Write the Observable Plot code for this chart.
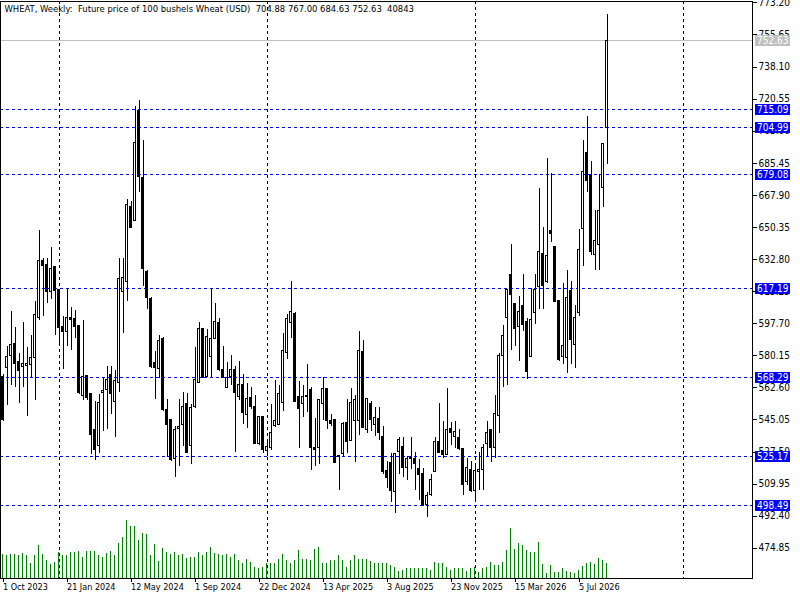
<!DOCTYPE html>
<html><head><meta charset="utf-8">
<script src="https://cdn.jsdelivr.net/npm/d3@7"></script>
<script src="https://cdn.jsdelivr.net/npm/@observablehq/plot@0.6"></script>
<style>
body{margin:0;background:#fff;}
#chart{position:relative;width:800px;height:600px;overflow:hidden;background:#fff;}
#chart svg{position:absolute;left:0;top:0;}
#chart svg line,#chart svg rect,#chart svg path{shape-rendering:crispEdges;}
#chart svg text{white-space:pre;}
</style></head><body><div id="chart"></div>
<script>
// ---- data (weekly candles starting 1 Oct 2023) ----
const firstWeek = "2023-10-01";
const opens = [568.5,573.6,580.3,586.4,576.6,573.8,574.6,575.2,578.9,601.0,632.1,629.8,615.2,628.6,616.4,595.7,593.3,600.6,600.2,596.5,558.4,569.1,559.0,539.3,530.7,559.6,561.6,569.7,554.9,565.5,614.8,620.5,661.5,653.8,714.3,677.3,626.0,611.2,576.3,572.8,589.4,550.3,545.2,523.5,540.1,542.1,553.9,530.6,551.9,565.1,594.9,568.5,579.3,589.4,598.2,572.6,562.4,568.5,572.6,557.6,564.0,547.8,556.9,552.3,532.0,546.8,528.0,529.6,541.7,542.1,554.3,581.9,597.9,603.2,557.6,553.9,557.6,561.6,529.6,529.6,553.5,562.0,544.4,544.8,525.5,526.5,543.3,533.6,544.2,544.2,582.3,539.7,553.5,542.1,545.8,535.6,516.9,521.4,505.6,527.5,530.0,519.0,524.2,523.8,518.4,515.4,498.7,504.2,516.4,533.2,527.9,525.9,540.1,535.6,535.2,529.2,511.3,517.4,506.2,516.4,517.8,532.0,539.7,529.9,547.4,580.3,600.6,624.5,608.7,596.1,607.5,598.9,579.3,603.7,617.9,636.1,620.5,648.3,639.6,610.3,579.5,578.9,615.8,586.0,603.7,649.3,690.9,678.5,635.1,640.8,672.1,704.88];
const highs = [570.0,585.4,604.1,595.5,581.3,598.6,584.8,591.3,610.1,648.9,633.1,633.1,639.6,628.6,616.4,601.6,616.8,606.7,604.7,596.5,599.6,569.1,559.0,554.9,559.0,568.1,574.2,574.2,572.2,633.1,633.1,665.6,664.5,716.3,720.0,698.0,627.0,612.0,582.3,591.5,590.4,556.0,545.2,541.7,556.0,560.0,559.6,553.5,584.8,598.6,594.9,594.5,617.2,608.7,600.6,585.4,576.2,580.3,574.2,577.2,570.1,565.1,563.0,558.4,547.0,547.0,533.0,553.5,566.5,564.0,592.5,602.6,620.9,603.7,566.1,564.0,575.2,563.0,545.8,556.0,568.5,562.0,547.8,544.8,525.5,543.7,556.0,562.0,558.4,593.5,588.4,556.3,554.9,551.9,551.9,541.7,522.4,526.5,526.5,535.6,535.6,525.1,535.6,527.1,523.5,518.4,505.2,515.4,535.6,554.3,544.2,562.0,543.7,544.2,539.7,529.2,523.9,522.4,521.4,527.5,531.6,544.2,539.7,558.4,581.3,596.5,616.4,641.2,608.7,612.8,624.5,600.6,616.8,624.5,671.6,650.3,687.9,679.8,639.6,610.3,619.9,626.6,620.9,607.7,649.3,698.0,711.2,686.7,659.5,679.4,696.0,767.00];
const lows = [544.0,552.9,564.1,563.0,553.9,563.0,546.8,567.7,555.9,599.6,601.6,608.7,611.2,591.5,585.4,572.6,585.4,583.3,589.4,559.0,555.9,555.9,525.9,522.9,526.5,538.7,539.7,548.2,535.6,560.0,592.5,609.7,650.3,653.4,669.6,617.8,605.7,573.0,556.4,567.7,549.5,524.5,522.5,513.7,519.8,530.6,527.0,520.4,551.5,565.0,567.7,568.0,568.5,589.0,571.8,567.7,562.4,564.0,527.1,555.9,542.7,540.1,550.9,531.8,531.0,526.5,525.0,528.5,540.7,542.1,549.9,578.3,589.4,554.5,529.6,546.2,549.1,517.4,519.8,520.4,544.6,539.7,541.7,521.0,506.2,524.5,526.5,533.6,522.0,536.7,540.7,537.7,538.7,536.0,533.6,515.4,507.6,500.1,494.0,515.4,513.3,511.7,517.9,506.2,501.1,497.5,491.4,503.2,516.4,526.5,523.8,525.9,531.2,529.6,528.5,503.6,509.3,505.6,500.1,506.2,506.2,524.5,521.8,523.9,537.7,563.0,564.0,583.3,585.4,577.2,593.5,567.1,579.3,597.5,605.7,605.7,619.9,642.2,609.1,577.2,575.2,570.7,575.2,573.2,601.6,629.0,669.6,635.1,626.6,626.6,661.1,684.63];
const closes = [545.0,579.7,585.8,575.6,571.8,575.6,575.8,578.7,602.2,631.9,629.0,615.2,627.4,615.8,595.5,592.9,600.6,599.6,596.1,560.0,568.5,556.9,536.7,528.5,554.3,561.0,567.1,559.0,566.5,621.9,622.5,662.9,650.3,696.4,678.1,627.4,611.8,574.2,573.6,588.4,550.3,542.1,523.0,539.3,541.3,551.9,527.1,551.5,567.1,594.9,568.1,590.4,589.4,598.6,572.2,568.1,568.1,572.6,560.0,564.0,548.8,556.3,551.9,532.0,546.8,528.5,530.0,538.1,544.2,559.0,582.7,600.2,604.1,554.9,550.9,557.6,557.9,529.6,528.5,556.0,562.0,544.4,542.7,521.4,524.5,542.7,533.2,554.3,555.9,582.7,540.7,556.3,544.8,546.2,537.7,516.4,513.3,506.2,526.5,534.0,519.0,523.5,523.8,521.0,514.9,498.1,503.6,512.3,533.2,527.1,525.9,539.7,537.7,538.7,529.2,509.3,519.0,506.2,517.0,517.4,529.6,538.1,529.6,548.2,580.3,590.9,616.4,613.2,594.9,604.3,597.0,571.2,599.6,616.4,636.7,618.5,634.7,646.9,609.7,577.9,585.4,611.8,588.8,601.0,638.1,680.8,675.7,636.7,642.8,659.1,696.0,752.63];
const volumes = [65300,62600,65300,65300,62600,68000,62600,40800,62600,89800,65300,49000,38100,43500,70700,62600,62600,70700,70700,73400,57100,73400,73400,73400,62600,57100,68000,73400,62600,95200,111500,157800,141400,141400,103400,122400,119700,62600,92500,46200,81600,70700,65300,70700,62600,65300,54400,57100,57100,70700,62600,70700,84300,68000,65300,62600,65300,57100,65300,49000,40800,51700,43500,29900,27200,29900,40800,40800,40800,51700,65300,49000,40800,49000,76200,51700,51700,49000,78900,84300,40800,40800,49000,49000,62600,49000,29900,49000,62600,51700,51700,51700,46200,40800,40800,40800,40800,35400,29900,19000,21800,27200,27200,27200,27200,27200,27200,21800,43500,40800,40800,29900,21800,27200,27200,27200,19000,27200,29900,16300,27200,29900,43500,35400,35400,43500,76200,136000,78900,95200,89800,76200,70700,70700,97900,38100,13600,35400,16300,16300,27200,19000,16300,13600,21800,32600,40800,43500,38100,54400,49000,40843];
const dateLabels = ["1 Oct 2023","21 Jan 2024","12 May 2024","1 Sep 2024","22 Dec 2024","13 Apr 2025","3 Aug 2025","23 Nov 2025","15 Mar 2026","5 Jul 2026"];
const labelWeeks = [0,16,32,48,64,80,96,112,128,144];
const yearStartWeeks = [14,66,118,170];
const priceTicks = [474.85,492.40,509.95,527.50,545.05,562.60,580.15,597.70,615.25,632.80,650.35,667.90,685.45,703.00,720.55,738.10,755.65,773.20];
const levels = [715.09,704.99,679.08,617.19,568.29,525.17,498.49];
const lastPrice = 752.63;
const header = "WHEAT, Weekly:  Future price of 100 bushels Wheat (USD)  704.88 767.00 684.63 752.63  40843";

// ---- layout ----
const W = 800, H = 600;
const M = {left: 0, right: 48, top: 1, bottom: 22};
const xDomain = [-0.625, 187.375];
const yDomain = [458.3, 773.97];
const FONT = '"DejaVu Sans Condensed","DejaVu Sans",sans-serif';

const candles = opens.map((o, i) => ({i, o, h: highs[i], l: lows[i], c: closes[i], v: volumes[i]}));

const main = Plot.plot({
  width: W, height: H,
  marginLeft: M.left, marginRight: M.right, marginTop: M.top, marginBottom: M.bottom,
  x: {domain: xDomain, label: null},
  y: {domain: yDomain, label: null},
  style: {background: "white", fontFamily: FONT, fontSize: "9px", color: "black", overflow: "visible"},
  marks: [
    Plot.ruleX(yearStartWeeks, {x: d => d, stroke: "black", strokeDasharray: "3,3"}),
    Plot.ruleY(levels, {y: d => d, stroke: "#0000ff", strokeDasharray: "3,3"}),
    Plot.ruleY([lastPrice], {y: d => d, stroke: "#c0c0c0"}),
    Plot.ruleX(candles, {x: "i", y1: "l", y2: "h", stroke: "black", strokeWidth: 1, shapeRendering: "crispEdges"}),
    Plot.rect(candles, {
      x1: d => d.i - 0.25, x2: d => d.i + 0.25, y1: "o", y2: "c",
      fill: d => d.c >= d.o ? "white" : "black", stroke: "black", strokeWidth: 1, shapeRendering: "crispEdges"
    }),
    Plot.text([header], {text: d => d, frameAnchor: "top-left", dx: 4, dy: 4, textAnchor: "start", lineAnchor: "top", fill: "black", fontSize: 9.4}),
    Plot.axisY(priceTicks, {anchor: "right", label: null, tickSize: 4, tickPadding: 2, fontSize: 10, tickFormat: d => d.toFixed(2)}),
    Plot.axisX(labelWeeks, {anchor: "bottom", label: null, tickSize: 4, tickPadding: 1, textAnchor: "start", dx: 0,
      tickFormat: d => dateLabels[labelWeeks.indexOf(d)]}),
    Plot.frame({stroke: "black"})
  ]
});

// volume histogram overlay, sharing the x layout, with its own y scale
const volPlot = Plot.plot({
  width: W, height: H,
  marginLeft: M.left, marginRight: M.right, marginTop: M.top, marginBottom: M.bottom,
  x: {domain: xDomain, axis: null},
  y: {domain: [0, 577 * 2720], axis: null},
  style: {background: "transparent"},
  marks: [
    Plot.rect(candles, {x1: d => d.i - 0.125, x2: d => d.i + 0.125, y1: 0, y2: "v", fill: "#008000", shapeRendering: "crispEdges"})
  ]
});

const host = document.getElementById("chart");
host.appendChild(main);
host.appendChild(volPlot);

// price labels on the right axis, positioned with the plot's own y scale
const ys = main.scale("y");
const svg = d3.select(main);
const boxes = [{v: lastPrice, fill: "#c0c0c0"}, ...levels.map(v => ({v, fill: "#0000ff"}))];
const g = svg.append("g").attr("text-anchor", "start");
for (const b of boxes) {
  const yc = Math.round(ys.apply(b.v));
  g.append("rect").attr("x", 755).attr("y", yc - 5).attr("width", 35).attr("height", 11).attr("fill", b.fill);
  g.append("text").attr("x", 757).attr("y", yc).attr("dy", "0.35em").attr("text-anchor", "start")
    .attr("fill", "white").attr("font-family", FONT).attr("font-size", 10).text(b.v.toFixed(2));
}
</script></body></html>
